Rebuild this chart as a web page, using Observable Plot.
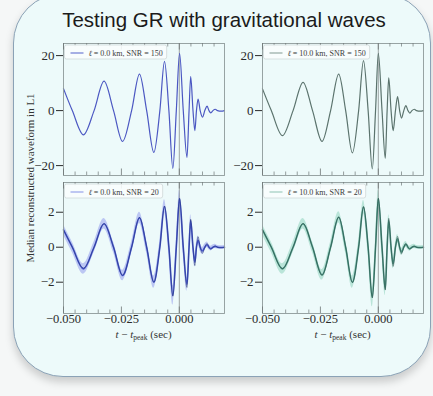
<!DOCTYPE html>
<html><head><meta charset="utf-8">
<script src="https://cdn.jsdelivr.net/npm/d3@7"></script>
<script src="https://cdn.jsdelivr.net/npm/@observablehq/plot@0.6"></script>
<style>
html,body{margin:0;padding:0;background:#f5f7f7;}
#wrap{position:relative;width:433px;height:396px;overflow:hidden;}
#slide{position:absolute;left:13px;top:-7px;width:418px;height:384px;box-sizing:border-box;border:1.5px solid #8ba2b6;border-radius:50px;background:#edfafa;box-shadow:0 5px 8px rgba(0,0,0,0.18);}
#overlay{position:absolute;left:0;top:0;}
</style></head><body>
<div id="wrap"><div id="slide"></div></div>
<script>
// ---- data ----
const titleText = "Testing GR with gravitational waves";
const yLabelText = "Median reconstructed waveform in L1";

const tLeft = [-0.05, -0.0462, -0.0414, -0.0368, -0.0325, -0.0284, -0.0245, -0.0206, -0.0172, -0.0141, -0.0110, -0.0084, -0.0064, -0.0045, -0.0028, -0.0013, 0.0001, 0.0017, 0.0033, 0.0042, 0.0049, 0.0059, 0.0067, 0.0074, 0.0081, 0.0090, 0.0100, 0.0110, 0.0120, 0.0128, 0.0136, 0.0145, 0.0155, 0.0165, 0.0180, 0.0195];
const tRight = [-0.05, -0.0462, -0.0414, -0.0368, -0.0325, -0.0284, -0.0243, -0.0206, -0.0171, -0.0141, -0.0112, -0.0085, -0.0064, -0.0044, -0.0026, -0.0012, 0.0000, 0.0016, 0.0030, 0.0038, 0.0045, 0.0055, 0.0064, 0.0074, 0.0083, 0.0092, 0.0100, 0.0110, 0.0119, 0.0128, 0.0136, 0.0145, 0.0155, 0.0165, 0.0180, 0.0195];

const hTopLeft  = [8.0, 0, -8.8, 0, 10.7, 0, -11.2, 0, 13.3, 0, -15.2, 0, 17.9, 0, -21.0, 0, 20.8, 0, -17.0, 0, 12.4, 0, -7.3, 0, 4.2, 0, -2.4, 0, 1.6, 0, -0.8, 0, 0.5, 0, -0.2, 0];
const hTopRight = [7.9, 0, -9.1, 0, 10.3, 0, -11.2, 0, 13.3, 0, -15.4, 0, 18.2, 0, -21.2, 0, 20.8, 0, -17.3, 0, 11.9, 0, -7.3, 0, 5.1, 0, -2.7, 0, 1.8, 0, -0.9, 0, 0.5, 0, -0.2, 0];

const hBotLeft     = [0.99, 0, -1.24, 0, 1.34, 0, -1.62, 0, 1.68, 0, -2.0, 0, 2.33, 0, -2.76, 0, 2.77, 0, -2.13, 0, 1.53, 0, -0.85, 0, 0.40, 0, -0.22, 0, 0.14, 0, -0.08, 0, 0.05, 0, -0.02, 0];
const hBotLeftInj  = [1.0, 0, -1.2, 0, 1.35, 0, -1.6, 0, 1.7, 0, -2.0, 0, 2.35, 0, -2.8, 0, 2.8, 0, -2.3, 0, 1.6, 0, -1.05, 0, 0.6, 0, -0.35, 0, 0.22, 0, -0.12, 0, 0.07, 0, -0.03, 0];
const bandBotLeft  = [0.3, 0.3, 0.3, 0.3, 0.3, 0.3, 0.3, 0.3, 0.32, 0.32, 0.35, 0.35, 0.38, 0.4, 0.55, 0.45, 0.5, 0.4, 0.38, 0.35, 0.32, 0.3, 0.28, 0.26, 0.24, 0.22, 0.2, 0.18, 0.16, 0.15, 0.14, 0.12, 0.12, 0.1, 0.1, 0.1];

const hBotRight    = [0.99, 0, -1.24, 0, 1.34, 0, -1.58, 0, 1.71, 0, -2.0, 0, 2.29, 0, -2.86, 0, 2.77, 0, -2.38, 0, 1.53, 0, -0.95, 0, 0.48, 0, -0.28, 0, 0.16, 0, -0.09, 0, 0.05, 0, -0.02, 0];
const hBotRightInj = [1.0, 0, -1.22, 0, 1.36, 0, -1.6, 0, 1.72, 0, -2.02, 0, 2.32, 0, -2.9, 0, 2.8, 0, -2.45, 0, 1.65, 0, -1.1, 0, 0.62, 0, -0.38, 0, 0.22, 0, -0.12, 0, 0.06, 0, -0.03, 0];
const bandBotRight = [0.3, 0.3, 0.3, 0.3, 0.3, 0.3, 0.3, 0.3, 0.32, 0.32, 0.35, 0.35, 0.38, 0.4, 0.55, 0.45, 0.5, 0.4, 0.38, 0.35, 0.32, 0.3, 0.28, 0.26, 0.24, 0.22, 0.2, 0.18, 0.16, 0.15, 0.14, 0.12, 0.12, 0.1, 0.1, 0.1];

const xMajorTicks = [-0.05, -0.025, 0];
const xMinorTicks = [-0.045, -0.04, -0.035, -0.03, -0.02, -0.015, -0.01, -0.005, 0.005, 0.01, 0.015];
const yTicksTop = [-20, 0, 20];
const yTicksBottom = [-2, 0, 2];
const ellValues = ["0.0", "10.0"];
const snrValues = ["150", "20"];

// ---- drawing ----
const wrap = document.getElementById("wrap");
const serif = "'Liberation Serif', 'DejaVu Serif', serif";

function makePanel(cfg) {
  const rows = cfg.t.map((t, i) => ({
    t, v: cfg.v[i],
    lo: cfg.band ? cfg.v[i] - cfg.band[i] : null,
    hi: cfg.band ? cfg.v[i] + cfg.band[i] : null,
    c: cfg.core ? cfg.core[i] : null
  }));
  const fw = 161, fh = cfg.bottom ? 131 : 132;
  const mL = 40, mR = 6, mT = 4, mB = cfg.bottom ? 32 : 4;
  const tickColor = "#6d7575";
  const marks = [];
  if (cfg.band) marks.push(Plot.areaY(rows, {x: "t", y1: "lo", y2: "hi", fill: cfg.bandColor, fillOpacity: 0.85, curve: "monotone-x"}));
  marks.push(Plot.ruleX([0], {stroke: "#8a8f90", strokeWidth: 0.8}));
  marks.push(Plot.line(rows, {x: "t", y: "v", stroke: cfg.color, strokeWidth: cfg.width, curve: "monotone-x"}));
  if (cfg.core) marks.push(Plot.line(rows, {x: "t", y: "c", stroke: cfg.coreColor, strokeWidth: 0.6, strokeOpacity: 0.8, curve: "monotone-x"}));
  marks.push(Plot.frame({stroke: "#8e9a9a", strokeWidth: 0.9}));
  marks.push(Plot.tickX(xMinorTicks, {insetTop: fh - 3.5, stroke: tickColor, strokeWidth: 0.7}));
  marks.push(Plot.tickX(xMinorTicks, {insetBottom: fh - 3.5, stroke: tickColor, strokeWidth: 0.7}));
  marks.push(Plot.tickX(xMajorTicks, {insetTop: fh - 6.5, stroke: tickColor, strokeWidth: 0.8}));
  marks.push(Plot.tickX(xMajorTicks, {insetBottom: fh - 6.5, stroke: tickColor, strokeWidth: 0.8}));
  marks.push(Plot.axisY({ticks: cfg.yTicks, tickSize: 7, tickPadding: 2, fontSize: 13, color: "#2b2b2b", label: null, tickFormat: d3.format("d")}));
  if (cfg.bottom) marks.push(Plot.axisX({ticks: xMajorTicks, tickSize: 0, tickPadding: 1, fontSize: 12.5, color: "#2b2b2b", label: null, tickFormat: d3.format(".3f")}));
  const svg = Plot.plot({
    width: mL + fw + mR, height: mT + fh + mB,
    marginLeft: mL, marginRight: mR, marginTop: mT, marginBottom: mB,
    x: cfg.bottom ? {domain: [-0.05, 0.0195]} : {domain: [-0.05, 0.0195], axis: null},
    y: {domain: cfg.yDomain},
    style: {position: "absolute", left: (cfg.fx - mL) + "px", top: (cfg.fy - mT) + "px", background: "transparent", fontFamily: serif, overflow: "visible", maxWidth: "none"},
    marks
  });
  wrap.appendChild(svg);
  // legend box
  const g = d3.select(svg).append("g").attr("transform", `translate(${mL + 1.5},${mT + 2})`);
  const rect = g.append("rect").attr("height", 14).attr("rx", 2)
    .attr("fill", "#f8fdfd").attr("fill-opacity", 0.9).attr("stroke", "#cbd4d4").attr("stroke-width", 0.7);
  g.append("line").attr("x1", 6).attr("x2", 19).attr("y1", 8).attr("y2", 8)
    .attr("stroke", cfg.legendColor).attr("stroke-width", 1.1);
  const tx = g.append("text").attr("x", 24).attr("y", 10.5).attr("font-size", 8)
    .attr("text-anchor", "start").attr("fill", "#3a3a3a").attr("font-family", serif);
  tx.append("tspan").attr("font-style", "italic").text("ℓ");
  tx.append("tspan").text(` = ${cfg.ell} km, SNR = ${cfg.snr}`);
  const len = tx.node().getComputedTextLength();
  rect.attr("width", 24 + len + 4);
}

makePanel({t: tLeft, v: hTopLeft, color: "#4b57c2", width: 1.2, yDomain: [-23.6, 24.4], yTicks: yTicksTop,
  fx: 63, fy: 43, bottom: false, legendColor: "#6270d0", ell: ellValues[0], snr: snrValues[0]});
makePanel({t: tRight, v: hTopRight, color: "#5b736d", width: 1.2, yDomain: [-23.6, 24.4], yTicks: yTicksTop,
  fx: 262, fy: 43, bottom: false, legendColor: "#8aa39c", ell: ellValues[1], snr: snrValues[0]});
makePanel({t: tLeft, v: hBotLeft, band: bandBotLeft, core: hBotLeftInj, color: "#4858cc", width: 1.6, bandColor: "#b3bdf1",
  coreColor: "#1c2a6a", yDomain: [-3.79, 3.7], yTicks: yTicksBottom,
  fx: 63, fy: 182, bottom: true, legendColor: "#8f9cea", ell: ellValues[0], snr: snrValues[1]});
makePanel({t: tRight, v: hBotRight, band: bandBotRight, core: hBotRightInj, color: "#4a8f7f", width: 1.6, bandColor: "#b0e0d2",
  coreColor: "#1f403a", yDomain: [-3.79, 3.7], yTicks: yTicksBottom,
  fx: 262, fy: 182, bottom: true, legendColor: "#98c9bb", ell: ellValues[1], snr: snrValues[1]});

// overlay texts
const ov = d3.select(wrap).append("svg").attr("id", "overlay").attr("width", 433).attr("height", 396);
ov.append("text").attr("x", 224).attr("y", 27.3).attr("text-anchor", "middle")
  .attr("font-family", "'Liberation Sans', Arial, sans-serif").attr("font-size", 20.5).attr("fill", "#1b1b1b").text(titleText);
ov.append("text").attr("transform", "translate(34,178) rotate(-90)").attr("text-anchor", "middle")
  .attr("font-family", serif).attr("font-size", 11).attr("fill", "#333").text(yLabelText);
for (const cx of [143.5, 342.5]) {
  const t = ov.append("text").attr("x", cx).attr("y", 338).attr("text-anchor", "middle")
    .attr("font-family", serif).attr("font-size", 11).attr("fill", "#333");
  t.append("tspan").attr("font-style", "italic").text("t");
  t.append("tspan").text(" − ");
  t.append("tspan").attr("font-style", "italic").text("t");
  t.append("tspan").attr("font-size", 7.5).attr("dy", 2).text("peak");
  t.append("tspan").attr("dy", -2).text(" (sec)");
}
</script>
</body></html>
